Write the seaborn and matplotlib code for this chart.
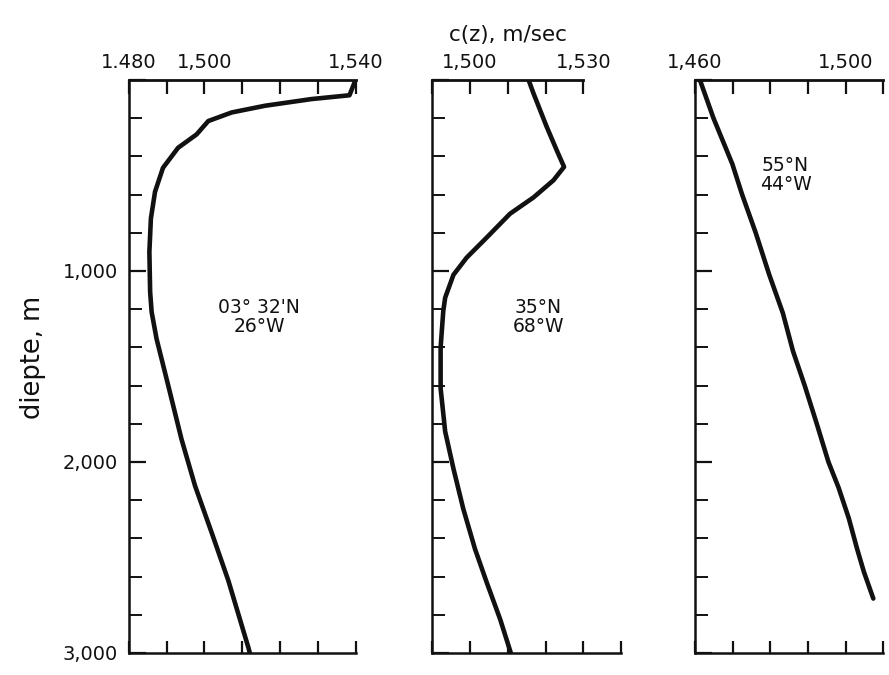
"""Sound speed profiles c(z) at three stations"""
import seaborn as sns
import matplotlib.pyplot as plt
from matplotlib.ticker import MultipleLocator

INK = '#111111'

sns.set_theme(style='white', rc={
    'axes.edgecolor': INK, 'axes.linewidth': 1.8,
    'xtick.color': INK, 'ytick.color': INK, 'text.color': INK,
    'axes.facecolor': 'white', 'figure.facecolor': 'white',
})
plt.rcParams['font.family'] = ['DejaVu Sans']

# station 03°32'N 26°W
depth1 = [0, 80, 100, 135, 170, 215, 285, 355, 460, 585, 725, 900, 1110,
          1215, 1355, 1600, 1880, 2125, 2370, 2620, 2970, 3000]
speed1 = [1540, 1538.4, 1528.3, 1516, 1507.2, 1501, 1497.9, 1493, 1489,
          1486.9, 1485.8, 1485.4, 1485.6, 1486, 1487.3, 1490.4, 1493.9,
          1497.5, 1501.9, 1506.3, 1511.6, 1512]

# station 35°N 68°W
depth2 = [0, 70, 245, 370, 455, 525, 615, 700, 825, 930, 1020, 1140, 1210,
          1400, 1615, 1840, 2035, 2245, 2455, 2630, 2825, 3000]
speed2 = [1515.5, 1516.8, 1520.3, 1523, 1524.9, 1522.1, 1516.8, 1510.6,
          1504.4, 1499.1, 1495.6, 1493.4, 1492.9, 1492.2, 1492.2, 1493.4,
          1495.6, 1498.2, 1501.3, 1504.4, 1508, 1510.8]

# station 55°N 44°W
depth3 = [0, 200, 440, 600, 800, 1020, 1220, 1420, 1600, 1800, 2000, 2135,
          2295, 2455, 2575, 2715]
speed3 = [1461.3, 1464.9, 1469.9, 1472.5, 1476.1, 1479.7, 1483.3, 1486.0,
          1489.1, 1492.3, 1495.4, 1498.1, 1500.8, 1503.0, 1504.8, 1507.3]

stations = ["03° 32'N\n26°W", "35°N\n68°W", "55°N\n44°W"]
xlims = [(1480, 1540), (1490, 1540), (1460, 1510)]
top_span = [(1480, 1540), (1490, 1530), (1460, 1510)]
top_labels = [{1480: '1.480', 1500: '1,500', 1540: '1,540'},
              {1500: '1,500', 1530: '1,530'},
              {1460: '1,460', 1500: '1,500'}]
label_pos = [(1514.5, 1240), (1518.0, 1240), (1484.0, 500)]

fig = plt.figure(figsize=(8.89, 6.75), dpi=100)
boxes = [[0.1451, 0.0326, 0.2548, 0.8489],
         [0.4863, 0.0326, 0.2123, 0.8489],
         [0.7818, 0.0326, 0.2120, 0.8489]]

profiles = [(speed1, depth1), (speed2, depth2), (speed3, depth3)]

for i, (box, (c, z)) in enumerate(zip(boxes, profiles)):
    ax = fig.add_axes(box)
    sns.lineplot(x=c, y=z, ax=ax, color=INK, lw=3.3, sort=False,
                 estimator=None, solid_joinstyle='round')
    lo, hi = xlims[i]
    ax.set_xlim(lo, hi)
    ax.set_ylim(3000, 0)
    ax.spines['right'].set_visible(False)
    ax.spines['top'].set_visible(False)

    # bottom axis: ticks only
    ax.set_xticks(range(lo, hi + 1, 10))
    ax.tick_params(axis='x', direction='in', length=9, width=1.6,
                   labelbottom=False, bottom=True)

    # depth axis
    ax.set_yticks([0, 1000, 2000, 3000])
    ax.yaxis.set_minor_locator(MultipleLocator(200))
    ax.tick_params(axis='y', which='major', direction='in', length=12,
                   width=1.6, left=True, pad=8, labelsize=14)
    ax.tick_params(axis='y', which='minor', direction='in', length=9,
                   width=1.4, left=True)
    if i == 0:
        ax.set_yticklabels(['', '1,000', '2,000', '3,000'])
    else:
        ax.set_yticklabels([])
    ax.set_xlabel('')
    ax.set_ylabel('')

    # top axis with its own ticks and labels
    tlo, thi = top_span[i]
    sec = ax.secondary_xaxis('top')
    ticks = list(range(tlo, thi + 1, 10))
    sec.set_xticks(ticks, labels=[top_labels[i].get(t, '') for t in ticks])
    sec.tick_params(direction='in', length=10, width=1.6, pad=6,
                    labelsize=14, colors=INK)
    sec.spines['top'].set_bounds(tlo, thi)
    sec.spines['top'].set_linewidth(2.0)
    sec.spines['top'].set_color(INK)

    tx, ty = label_pos[i]
    ax.text(tx, ty, stations[i], ha='center', va='center', fontsize=13.5,
            linespacing=1.0)

fig.text(0.571, 0.948, 'c(z), m/sec', ha='center', va='center', fontsize=15.5)
fig.text(0.037, 0.47, 'diepte, m', rotation=90, ha='center', va='center',
         fontsize=18.5)

fig.savefig('out.png', dpi=100, facecolor='white')
